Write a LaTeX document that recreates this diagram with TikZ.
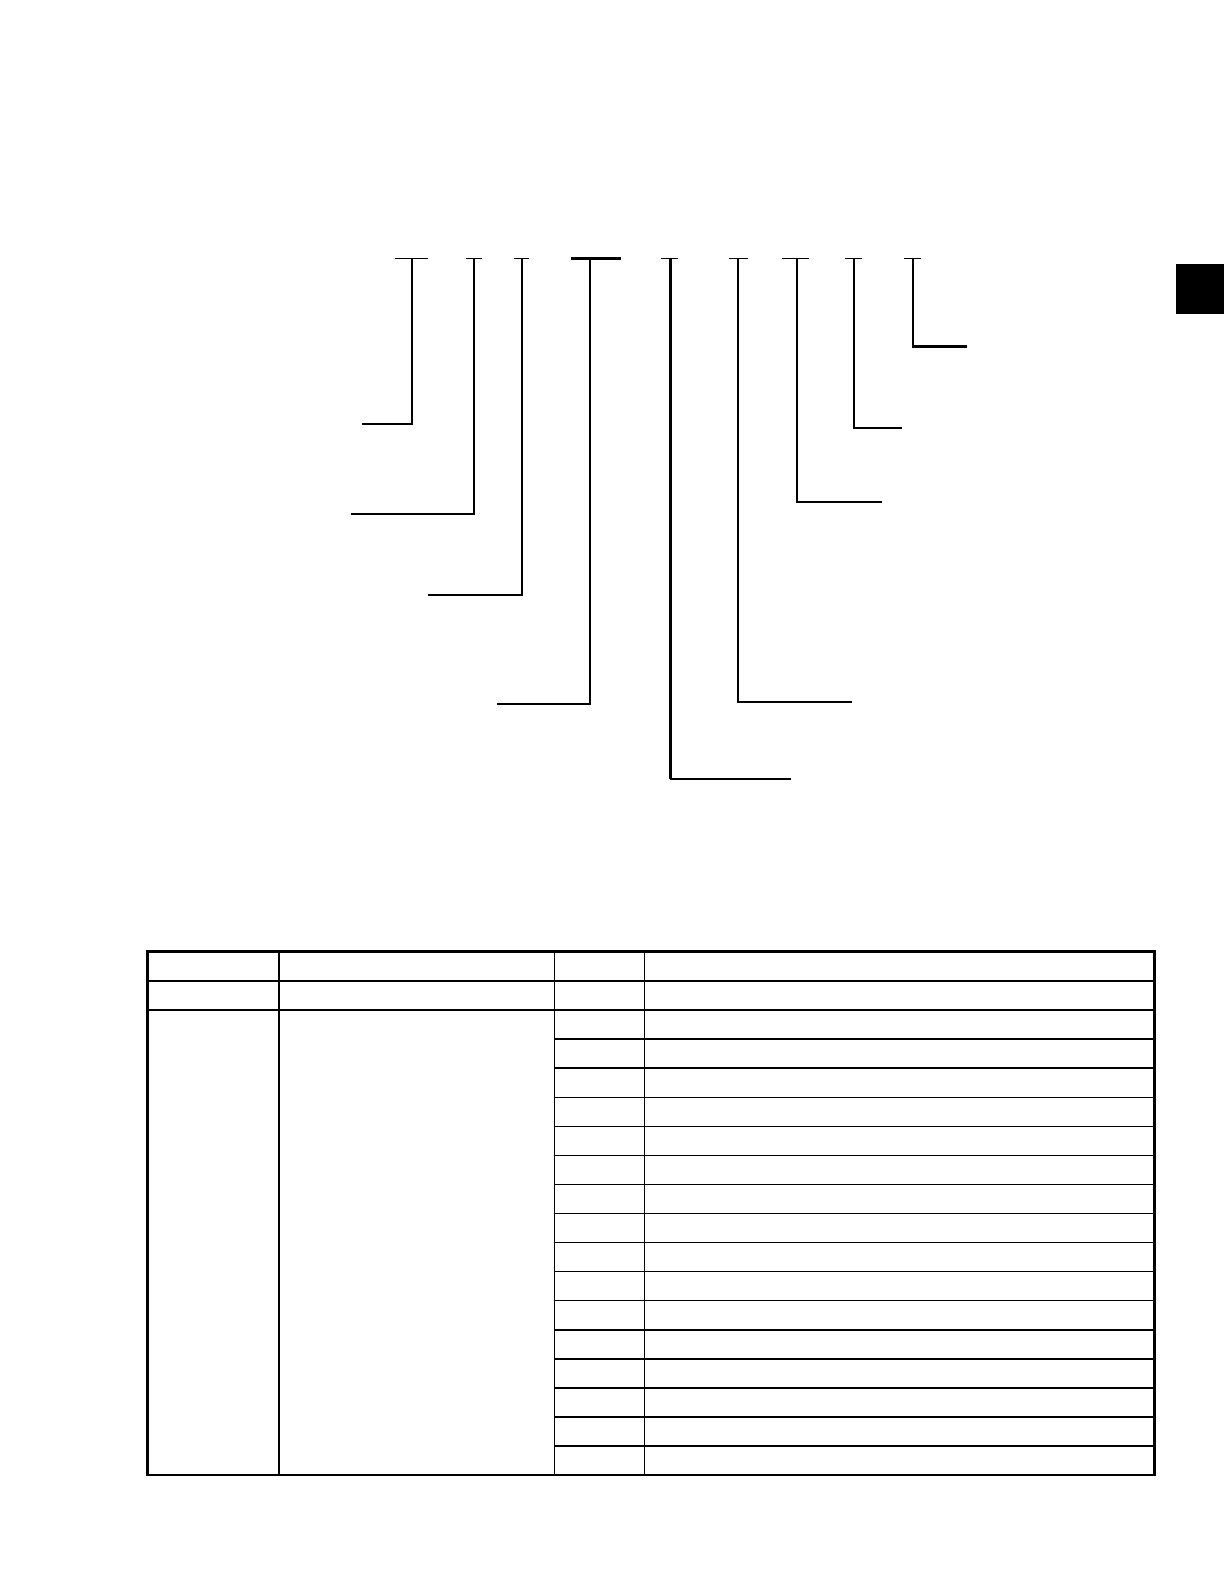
\documentclass[tikz,border=0pt]{standalone}
\begin{document}
\begin{tikzpicture}[x=1pt,y=-1pt,
  lead/.style={line width=2pt,line cap=butt,line join=miter},
  leadthick/.style={line width=2.6pt,line cap=butt,line join=miter},
  tick/.style={line width=1.2pt},
  tickthick/.style={line width=2.4pt},
  outer/.style={line width=2.4pt},
  inner/.style={line width=1.6pt}]
\useasboundingbox (0,0) rectangle (1212,1568);
\fill[white] (0,0) rectangle (1212,1568);
% tabs
\fill[black] (1164,261) rectangle (1212,311);
% callout brackets: #1 tick left, tick right, vertical x, bottom y, end x
\foreach \a/\b/\v/\yb/\e in {391/424/408/420/358, 461/477/469/509/347, 509/524/517/589/424, 654/671/664/771/783, 722/740/731/695/843, 774/801/789/497/873, 836/853/845/424/893, 895/912/904/343/957}{
  \draw[tick] (\a,256) -- (\b,256);
  \draw[lead] (\v,256) -- (\v,\yb) -- (\e,\yb);
}
\draw[tickthick] (565,256) -- (615,256);
\draw[lead] (584,256) -- (584,697) -- (492,697);
\draw[leadthick] (664,256) -- (664,771);
% table
\draw[outer] (146,942) rectangle (1143,1460);
\draw[outer] (146,971) -- (1143,971);
\draw[outer] (146,1000) -- (1143,1000);
\foreach \c in {276,549,638}{\draw[inner] (\c,942) -- (\c,1460);}
\foreach \i in {1,...,15}{\draw[inner] (549,{1000+\i*28.75}) -- (1143,{1000+\i*28.75});}
\end{tikzpicture}
\end{document}
